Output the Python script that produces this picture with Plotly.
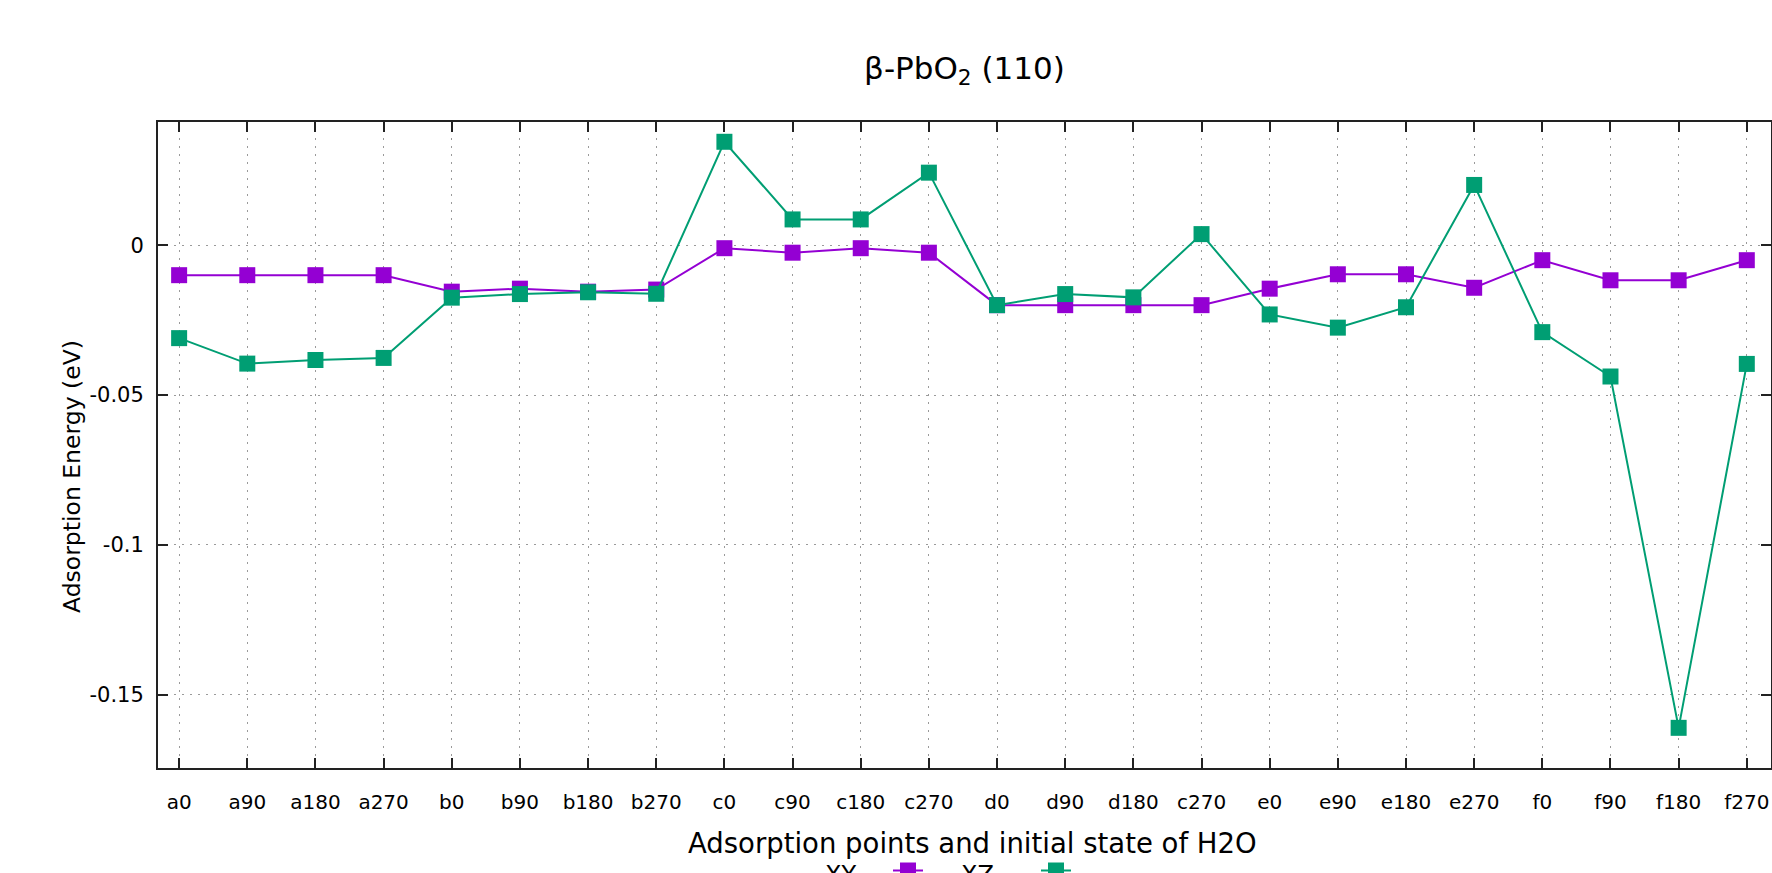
import plotly.graph_objects as go

categories = ["a0", "a90", "a180", "a270", "b0", "b90", "b180", "b270",
              "c0", "c90", "c180", "c270", "d0", "d90", "d180", "c270",
              "e0", "e90", "e180", "e270", "f0", "f90", "f180", "f270"]
xy_values = [-0.010, -0.010, -0.010, -0.010, -0.0155, -0.0145, -0.0155, -0.0148,
             -0.001, -0.0025, -0.001, -0.0025, -0.020, -0.020, -0.020, -0.020,
             -0.0145, -0.0097, -0.0097, -0.0142, -0.005, -0.0117, -0.0117, -0.005]
xz_values = [-0.031, -0.0395, -0.0383, -0.0376, -0.0175, -0.0163, -0.0157, -0.0162,
             0.0345, 0.0086, 0.0086, 0.0242, -0.020, -0.0163, -0.0174, 0.0037,
             -0.0231, -0.0275, -0.0207, 0.0201, -0.029, -0.0438, -0.161, -0.0396]
y_tick_values = [0, -0.05, -0.1, -0.15]
y_tick_labels = ["0", "-0.05", "-0.1", "-0.15"]

positions = list(range(len(categories)))
FONT = "DejaVu Sans, Verdana, sans-serif"

fig = go.Figure()
fig.add_trace(go.Scatter(
    x=positions, y=xy_values, name="XY", mode="lines+markers",
    line=dict(color="#9400D3", width=2),
    marker=dict(symbol="square", size=16, color="#9400D3"),
))
fig.add_trace(go.Scatter(
    x=positions, y=xz_values, name="XZ", mode="lines+markers",
    line=dict(color="#009E73", width=2),
    marker=dict(symbol="square", size=16, color="#009E73"),
))

L, T, B, R = 158, 122, 105, 1
W, H = 1772, 873
pw = W - L - R
ph = H - T - B

def px(xf):
    return (xf - L) / pw

def py(yf):
    return (H - B - yf) / ph

fig.update_layout(
    width=W, height=H,
    margin=dict(l=L, r=R, t=T, b=B, autoexpand=False),
    paper_bgcolor="white", plot_bgcolor="white",
    font=dict(family=FONT, color="black"),
    title=dict(text="β-PbO<sub>2</sub> (110)", x=0.5, xref="paper", xanchor="center",
               y=1 - 68 / H, yref="container", yanchor="middle",
               font=dict(size=31, family=FONT, color="black")),
    showlegend=True,
    legend=dict(orientation="h", x=px(888), xanchor="left", y=py(851), yanchor="top",
                font=dict(size=20, color="rgba(0,0,0,0)"),
                entrywidth=103, entrywidthmode="pixels", bgcolor="rgba(0,0,0,0)"),
    xaxis=dict(
        range=[-0.31, 23.355], tickmode="array", tickvals=positions, ticktext=categories,
        ticks="inside", ticklen=10, tickwidth=2, tickcolor="#222",
        showline=True, linecolor="#222", linewidth=2, mirror="allticks",
        showgrid=True, gridcolor="#9a9a9a", gridwidth=1, griddash="2px,6px",
        zeroline=False, tickfont=dict(size=20, family=FONT, color="black"),
        ticklabelstandoff=15,
    ),
    yaxis=dict(
        range=[-0.1744, 0.0411], tickmode="array", tickvals=y_tick_values, ticktext=y_tick_labels,
        ticks="inside", ticklen=10, tickwidth=2, tickcolor="#222",
        showline=True, linecolor="#222", linewidth=2, mirror="allticks",
        showgrid=True, gridcolor="#9a9a9a", gridwidth=1, griddash="2px,6px",
        zeroline=False, tickfont=dict(size=21, family=FONT, color="black"),
        ticklabelstandoff=8,
    ),
    annotations=[
        dict(text="Adsorption Energy (eV)", textangle=-90, x=px(72), y=py(477),
             xref="paper", yref="paper", showarrow=False, xanchor="center", yanchor="middle",
             font=dict(size=23.5, family=FONT, color="black")),
        dict(text="Adsorption points and initial state of H2O", x=px(972), y=py(843),
             xref="paper", yref="paper", showarrow=False, xanchor="center", yanchor="middle",
             font=dict(size=27.5, family=FONT, color="black")),
        dict(text="XY", x=px(858), y=py(875), xref="paper", yref="paper", showarrow=False,
             xanchor="right", yanchor="middle", font=dict(size=24, family=FONT, color="black")),
        dict(text="XZ", x=px(996), y=py(875), xref="paper", yref="paper", showarrow=False,
             xanchor="right", yanchor="middle", font=dict(size=24, family=FONT, color="black")),
    ],
)

fig.write_html("out.html")
